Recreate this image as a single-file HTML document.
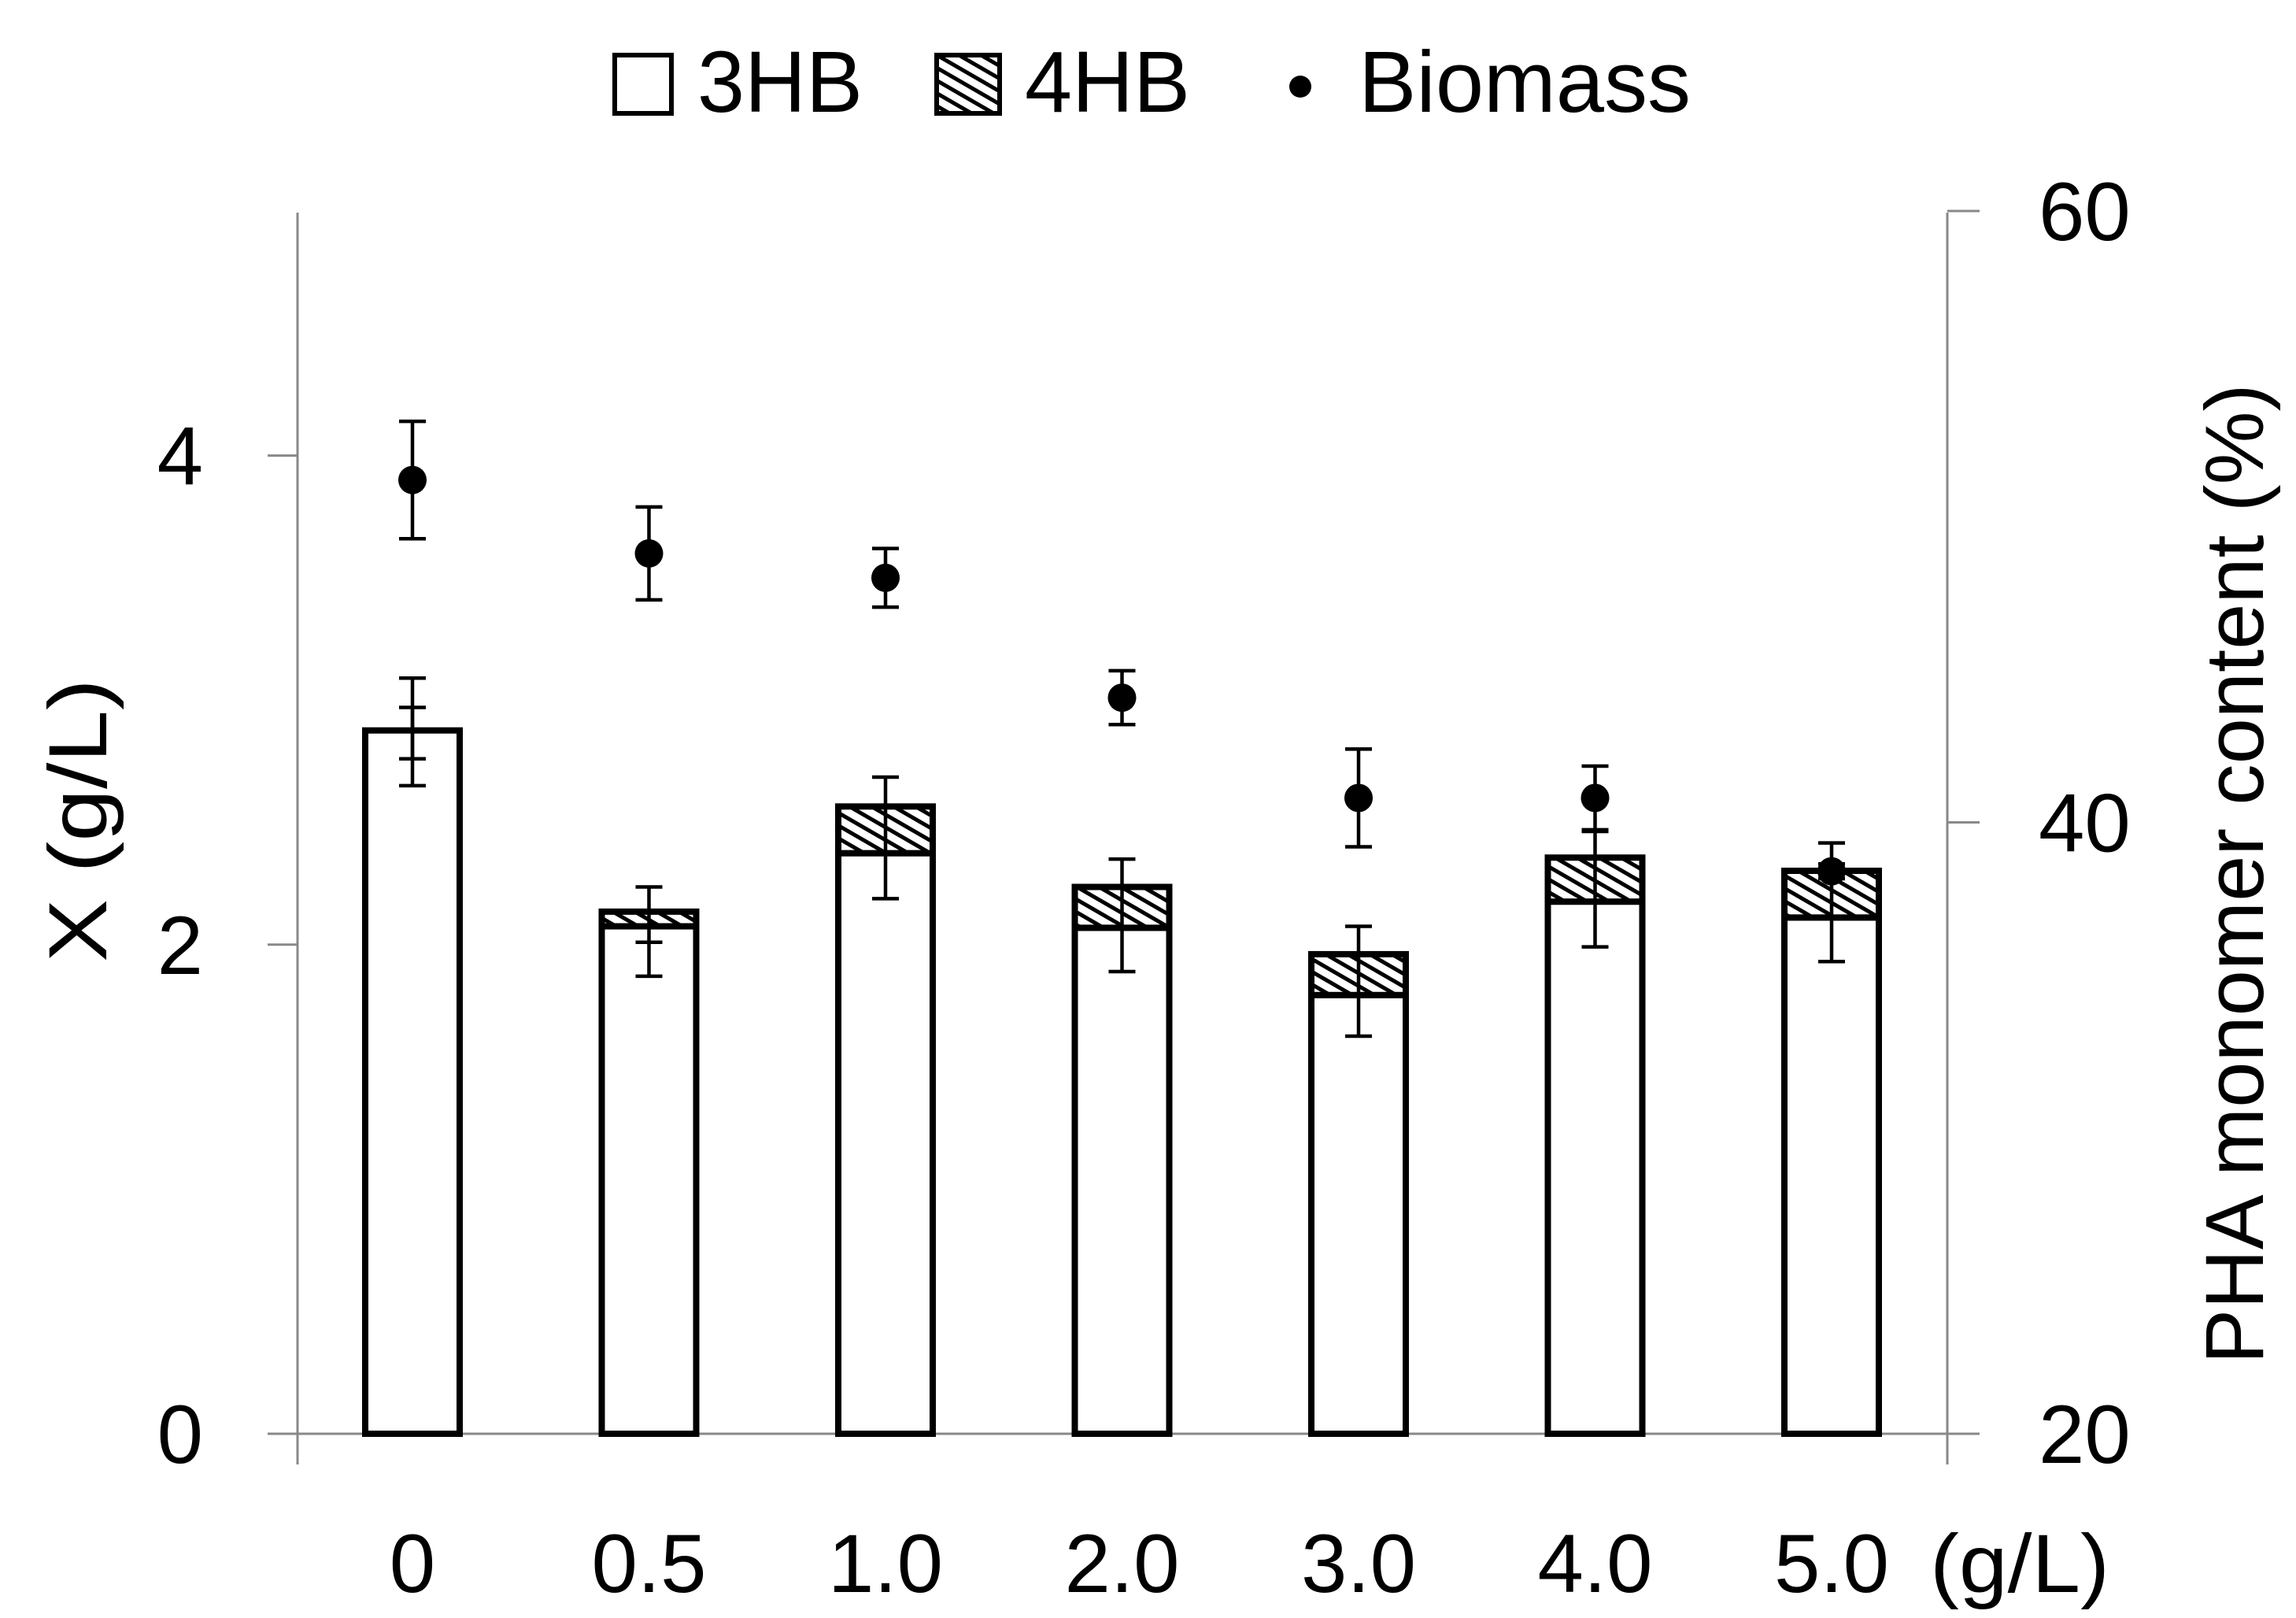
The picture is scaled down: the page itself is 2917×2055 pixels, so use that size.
<!DOCTYPE html>
<html><head><meta charset="utf-8"><style>
html,body{margin:0;padding:0;background:#fff;}
svg{display:block;font-family:"Liberation Sans",sans-serif;}
</style></head><body>
<svg id="chart" width="2917" height="2055" viewBox="0 0 2917 2055" xmlns="http://www.w3.org/2000/svg">
<defs>
<pattern id="hatch" patternUnits="userSpaceOnUse" width="14" height="14" patternTransform="rotate(-60)">
<rect width="14" height="14" fill="#fff"/>
<rect x="0" y="0" width="5" height="14" fill="#000"/>
</pattern>
</defs>
<g id="legend">
<rect x="781" y="70" width="72" height="74" fill="#fff" stroke="#000" stroke-width="6"/>
<text x="886" y="142" font-size="110" textLength="210" lengthAdjust="spacingAndGlyphs">3HB</text>
<rect x="1190" y="70" width="80" height="74" fill="url(#hatch)" stroke="#000" stroke-width="6"/>
<text x="1302" y="142" font-size="110" textLength="210" lengthAdjust="spacingAndGlyphs">4HB</text>
<circle cx="1652" cy="110" r="14" fill="#000"/>
<text x="1726" y="142" font-size="110" textLength="422" lengthAdjust="spacingAndGlyphs">Biomass</text>
</g>
<g id="axes"></g>
<g id="bars"></g>
<g id="points"></g>
<text transform="translate(135,1042) rotate(-90)" text-anchor="middle" font-size="105" textLength="360" lengthAdjust="spacingAndGlyphs">X (g/L)</text>
<text transform="translate(2875,1110) rotate(-90)" text-anchor="middle" font-size="105" textLength="1245" lengthAdjust="spacingAndGlyphs">PHA monomer content (%)</text>
<text x="2452" y="2022" font-size="105" textLength="228" lengthAdjust="spacingAndGlyphs">(g/L)</text>
</svg>
<script>
const categories = ["0","0.5","1.0","2.0","3.0","4.0","5.0"];
const hb3 = [2.876,2.075,2.374,2.069,1.794,2.176,2.111];
const hb4 = [0,0.06,0.191,0.167,0.167,0.18,0.191];
const barErrHi = [3.09,2.236,2.685,2.35,2.075,2.463,2.416];
const barErrLo = [2.65,1.871,2.188,1.89,1.626,1.991,1.931];
const innerErrHi = [2.97,2.01,2.374,2.069,1.794,2.176,2.111];
const innerErrLo = [2.76,2.01,2.374,2.069,1.794,2.176,2.111];
const biomass = [3.90,3.60,3.50,3.01,2.60,2.60,2.30];
const biomassErr = [0.24,0.19,0.12,0.11,0.20,0.13,0.03];
const yTicks = [0,2,4];
const y2Ticks = [20,40,60];

const NS="http://www.w3.org/2000/svg";
const X0=378, X1=2474, Y0=1821, PER=310.6;
function y(v){return Y0-v*PER;}
function y2(v){return Y0-(v-20)/40*5*PER;}
function xc(i){return 524+i*300.5;}
function mk(tag,attrs,parent){const e=document.createElementNS(NS,tag);for(const k in attrs)e.setAttribute(k,attrs[k]);parent.appendChild(e);return e;}
const axes=document.getElementById('axes'),bars=document.getElementById('bars'),pts=document.getElementById('points');
let e;
e=mk('line',{x1:X0,y1:270,x2:X0,y2:1860,stroke:'#888','stroke-width':3},axes);


e=mk('line',{x1:X1,y1:270,x2:X1,y2:1860,stroke:'#888','stroke-width':3},axes);


e=mk('line',{x1:340,y1:Y0,x2:2515,y2:Y0,stroke:'#888','stroke-width':3},axes);


yTicks.forEach(t=>{
  e=mk('line',{x1:340,y1:y(t),x2:X0,y2:y(t),stroke:'#888','stroke-width':3},axes);
  
  
  e=mk('text',{x:258,y:y(t)+37,'font-size':105,'text-anchor':'end'},axes);e.textContent=t;
  
  
});
y2Ticks.forEach(t=>{
  e=mk('line',{x1:X1,y1:y2(t),x2:2515,y2:y2(t),stroke:'#888','stroke-width':3},axes);
  
  
  e=mk('text',{x:2590,y:y2(t)+37,'font-size':105},axes);e.textContent=t;
  
  
});
function errbar(cx,hi,lo,parent,name){
  const g=mk('g',{stroke:'#000','stroke-width':4.5},parent);
  
  
  mk('line',{x1:cx,y1:hi,x2:cx,y2:lo},g);
  mk('line',{x1:cx-17,y1:hi,x2:cx+17,y2:hi},g);
  mk('line',{x1:cx-17,y1:lo,x2:cx+17,y2:lo},g);
}
categories.forEach((c,i)=>{
  const cx=xc(i), w=120;
  e=mk('rect',{x:cx-w/2,y:y(hb3[i]),width:w,height:Y0-y(hb3[i]),fill:'#fff',stroke:'#000','stroke-width':8},bars);
  
  
  if(hb4[i]>0){
    e=mk('rect',{x:cx-w/2,y:y(hb3[i]+hb4[i]),width:w,height:y(hb3[i])-y(hb3[i]+hb4[i]),fill:'url(#hatch)',stroke:'#000','stroke-width':8},bars);
    
    
  }
  errbar(cx,y(barErrHi[i]),y(barErrLo[i]),bars,'bar-error-'+c);
  if(innerErrHi[i]!==hb3[i]) errbar(cx,y(innerErrHi[i]),y(innerErrLo[i]),bars,'bar-inner-error-'+c);
  errbar(cx,y(biomass[i]+biomassErr[i]),y(biomass[i]-biomassErr[i]),pts,'biomass-error-'+c);
  e=mk('circle',{cx:cx,cy:y(biomass[i]),r:18,fill:'#000'},pts);
  
  
  e=mk('text',{x:cx,y:2022,'font-size':105,'text-anchor':'middle'},axes);e.textContent=c;
  
  
});
</script>
</body></html>
